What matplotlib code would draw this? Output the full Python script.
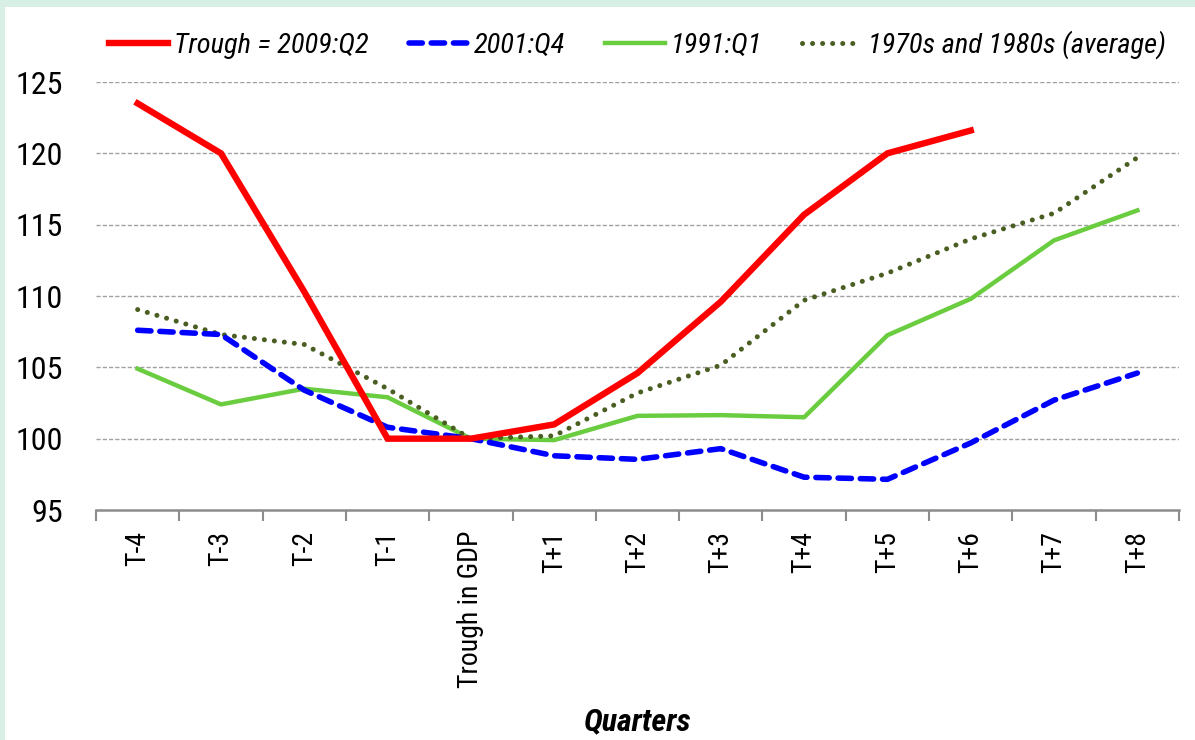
import matplotlib
matplotlib.use("Agg")
import matplotlib.pyplot as plt
from matplotlib.patches import Rectangle
from matplotlib.lines import Line2D

# Dados (indice = 100 no vale do PIB)
quarters = ["T-4", "T-3", "T-2", "T-1", "Trough in GDP", "T+1", "T+2",
            "T+3", "T+4", "T+5", "T+6", "T+7", "T+8"]
trough_2009 = [123.5, 120.0, 110.3, 100.0, 100.0, 101.0, 104.6, 109.6,
               115.7, 120.0, 121.6]
trough_2001 = [107.6, 107.3, 103.4, 100.8, 100.0, 98.8, 98.55, 99.3,
               97.3, 97.15, 99.7, 102.7, 104.6]
trough_1991 = [104.9, 102.4, 103.5, 102.9, 100.0, 99.9, 101.6, 101.65,
               101.5, 107.25, 109.8, 113.9, 116.0]
avg_7080 = [109.05, 107.3, 106.6, 103.5, 100.0, 100.2, 103.2, 105.15,
            109.7, 111.6, 114.0, 115.8, 119.7]
y_ticks = [95, 100, 105, 110, 115, 120, 125]

VERM = "#ff0000"
AZUL = "#0000ff"
VERDE = "#6acd3f"
OLIVA = "#4a5e22"
MENTA = "#d8efe6"

plt.rcParams["font.family"] = ["Liberation Sans Narrow", "Roboto Condensed",
                               "Liberation Sans", "DejaVu Sans"]

fig = plt.figure(figsize=(11.95, 7.40), dpi=100, facecolor=MENTA)
fig.patches.append(Rectangle((5 / 1195, 0), 1, 1 - 7 / 740,
                             transform=fig.transFigure, facecolor="white",
                             edgecolor="none", zorder=-10))

ax = fig.add_axes([96 / 1195, 1 - 510 / 740, 1083 / 1195, 428 / 740])
ax.set_facecolor("none")

x = list(range(len(quarters)))
ax.plot(x[:len(trough_2009)], trough_2009, color=VERM, lw=4.6,
        solid_joinstyle="miter", zorder=5, clip_on=False)
ax.plot(x, trough_2001, color=AZUL, lw=4.0, ls=(0, (2.4, 1.6)),
        dash_capstyle="round", zorder=4, clip_on=False)
ax.plot(x, trough_1991, color=VERDE, lw=3.2, zorder=3, clip_on=False)
ax.plot(x, avg_7080, color=OLIVA, lw=3.6, ls=(0, (0.01, 2.0)),
        dash_capstyle="round", zorder=3, clip_on=False)

ax.set_xlim(-0.5, len(quarters) - 0.5)
ax.set_ylim(95, 125)
ax.set_yticks(y_ticks)
ax.set_yticklabels([str(v) for v in y_ticks], fontsize=23)
ax.tick_params(axis="y", length=0, pad=24)

ax.set_xticks(x)
ax.set_xticklabels(quarters, rotation=90, fontsize=20, va="top")
ax.set_xticks([i - 0.5 for i in range(len(quarters) + 1)], minor=True)
ax.tick_params(axis="x", which="major", length=0, pad=15)
ax.tick_params(axis="x", which="minor", length=8, width=1.5, color="#8c8c8c")

for v in y_ticks[1:]:
    ax.axhline(v, color="#a0a0a0", lw=1.0, ls=(0, (3, 1.5)), zorder=1)

for s in ["left", "right", "top"]:
    ax.spines[s].set_visible(False)
ax.spines["bottom"].set_color("#8c8c8c")
ax.spines["bottom"].set_linewidth(1.8)

ax.set_xlabel("Quarters", fontsize=23, fontweight="bold", style="italic",
              va="center")
ax.xaxis.set_label_coords(0.5, (510 - 722) / 428)

handles = [
    Line2D([0], [0], color=VERM, lw=4.6),
    Line2D([0], [0], color=AZUL, lw=4.0, ls=(0, (2.4, 1.6)), dash_capstyle="round"),
    Line2D([0], [0], color=VERDE, lw=3.2),
    Line2D([0], [0], color=OLIVA, lw=3.6, ls=(0, (0.01, 2.0)), dash_capstyle="round"),
]
labels = ["Trough = 2009:Q2", "2001:Q4", "1991:Q1", "1970s and 1980s (average)"]
fig.legend(handles, labels, loc="center", bbox_to_anchor=(637 / 1195, 1 - 45 / 740),
           ncol=4, frameon=False, handlelength=2.1, handletextpad=0.2,
           columnspacing=1.4, prop={"size": 20.5, "style": "italic"})

fig.savefig("out.png", dpi=100, facecolor=fig.get_facecolor())
